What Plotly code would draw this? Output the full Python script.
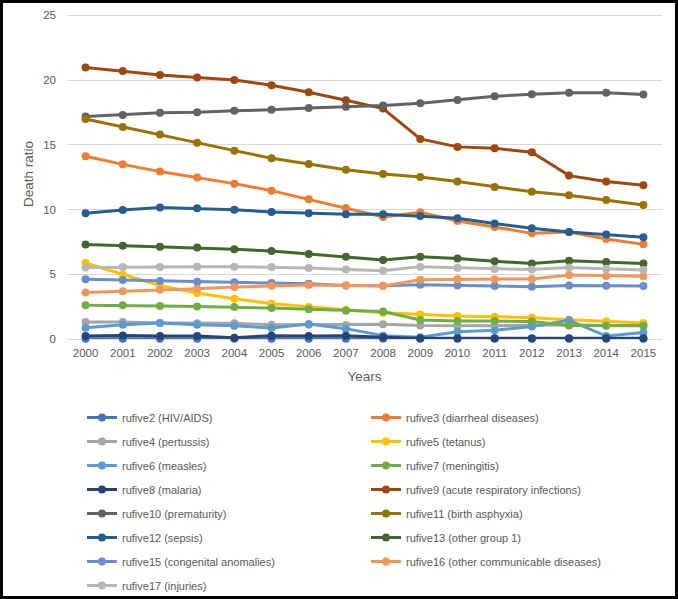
import plotly.graph_objects as go

years = [str(y) for y in range(2000, 2016)]

rufive2 = [0.02]*16
rufive3 = [14.11, 13.49, 12.93, 12.47, 12.00, 11.46, 10.80, 10.12, 9.43, 9.79, 9.12, 8.65, 8.16, 8.27, 7.73, 7.31]
rufive4 = [1.31, 1.31, 1.24, 1.21, 1.21, 1.10, 1.10, 1.08, 1.13, 1.05, 1.03, 1.03, 1.05, 1.10, 1.05, 1.05]
rufive5 = [5.87, 4.97, 4.12, 3.55, 3.11, 2.73, 2.47, 2.26, 2.03, 1.90, 1.78, 1.72, 1.65, 1.49, 1.36, 1.24]
rufive6 = [0.87, 1.10, 1.24, 1.10, 1.03, 0.85, 1.16, 0.80, 0.26, 0.13, 0.56, 0.67, 0.97, 1.44, 0.23, 0.51]
rufive7 = [2.60, 2.60, 2.55, 2.52, 2.47, 2.39, 2.29, 2.19, 2.13, 1.47, 1.39, 1.39, 1.36, 1.05, 1.03, 1.03]
rufive8 = [0.23, 0.28, 0.23, 0.23, 0.10, 0.26, 0.23, 0.26, 0.13, 0.05, 0.05, 0.05, 0.05, 0.05, 0.05, 0.05]
rufive9 = [20.97, 20.70, 20.40, 20.20, 20.00, 19.60, 19.06, 18.44, 17.80, 15.45, 14.84, 14.73, 14.42, 12.62, 12.16, 11.87]
rufive10 = [17.18, 17.31, 17.47, 17.51, 17.64, 17.70, 17.85, 17.93, 18.03, 18.21, 18.47, 18.75, 18.90, 19.03, 19.03, 18.88]
rufive11 = [17.00, 16.38, 15.79, 15.15, 14.55, 13.96, 13.52, 13.08, 12.75, 12.52, 12.16, 11.75, 11.38, 11.10, 10.74, 10.35]
rufive12 = [9.71, 9.97, 10.15, 10.09, 9.99, 9.81, 9.71, 9.63, 9.63, 9.50, 9.32, 8.93, 8.55, 8.27, 8.08, 7.85]
rufive13 = [7.29, 7.21, 7.13, 7.06, 6.93, 6.80, 6.57, 6.36, 6.10, 6.36, 6.21, 6.00, 5.84, 6.05, 5.95, 5.84]
rufive15 = [4.61, 4.56, 4.48, 4.43, 4.38, 4.33, 4.27, 4.14, 4.12, 4.20, 4.14, 4.09, 4.04, 4.14, 4.12, 4.09]
rufive16 = [3.60, 3.68, 3.81, 3.89, 4.02, 4.12, 4.17, 4.14, 4.09, 4.58, 4.61, 4.61, 4.64, 4.95, 4.87, 4.84]
rufive17 = [5.53, 5.56, 5.56, 5.59, 5.59, 5.56, 5.48, 5.36, 5.28, 5.59, 5.51, 5.41, 5.36, 5.53, 5.43, 5.33]

series = [
    ("rufive2 (HIV/AIDS)", rufive2, "#4472C4", "legend"),
    ("rufive3 (diarrheal diseases)", rufive3, "#ED7D31", "legend2"),
    ("rufive4 (pertussis)", rufive4, "#A5A5A5", "legend"),
    ("rufive5 (tetanus)", rufive5, "#FFC000", "legend2"),
    ("rufive6 (measles)", rufive6, "#5B9BD5", "legend"),
    ("rufive7 (meningitis)", rufive7, "#70AD47", "legend2"),
    ("rufive8 (malaria)", rufive8, "#264478", "legend"),
    ("rufive9 (acute respiratory infections)", rufive9, "#9E480E", "legend2"),
    ("rufive10 (prematurity)", rufive10, "#636363", "legend"),
    ("rufive11 (birth asphyxia)", rufive11, "#997300", "legend2"),
    ("rufive12 (sepsis)", rufive12, "#255E91", "legend"),
    ("rufive13 (other group 1)", rufive13, "#43682B", "legend2"),
    ("rufive15 (congenital anomalies)", rufive15, "#698ED0", "legend"),
    ("rufive16 (other communicable diseases)", rufive16, "#F1975A", "legend2"),
    ("rufive17 (injuries)", rufive17, "#B7B7B7", "legend"),
]

fig = go.Figure()
for name, vals, color, leg in series:
    fig.add_trace(go.Scatter(
        x=years, y=vals, name=name, mode="lines+markers",
        line=dict(color=color, width=3),
        marker=dict(color=color, size=8),
        cliponaxis=False, legend=leg, legendgroup=name,
    ))

W, H = 678, 599
L, R, T, B = 67, 16, 9, 260
pw, ph = W - L - R, H - T - B

def px_x(p):
    return (p - L) / pw

def px_y(p):
    return (H - B - p) / ph

tick_font = dict(family="Liberation Sans, Arial, sans-serif", size=11.5, color="#595959")
leg_font = dict(family="Liberation Sans, Arial, sans-serif", size=11, color="#595959")

fig.update_layout(
    width=W, height=H,
    margin=dict(l=L, r=R, t=T, b=B, autoexpand=False),
    paper_bgcolor="white", plot_bgcolor="white",
    showlegend=True,
    xaxis=dict(
        type="category", range=[-0.5, 15.5], showgrid=False,
        showline=False, ticks="", tickfont=tick_font, ticklabelstandoff=5,
        title=dict(text="Years", font=dict(family="Liberation Sans, Arial, sans-serif", size=13.5, color="#595959"), standoff=14),
        automargin=False,
    ),
    yaxis=dict(
        range=[0, 25.49], tickvals=[0, 5, 10, 15, 20, 25], showgrid=True, gridcolor="#D9D9D9", gridwidth=1,
        zeroline=True, zerolinecolor="#D9D9D9", zerolinewidth=1,
        showline=False, ticks="", tickfont=tick_font, ticklabelstandoff=10,
        title=dict(text="Death ratio", font=dict(family="Liberation Sans, Arial, sans-serif", size=13.5, color="#595959"), standoff=6),
        automargin=False,
    ),
    legend=dict(
        x=px_x(82), y=px_y(403), xanchor="left", yanchor="top",
        orientation="v", tracegroupgap=5, font=leg_font, bgcolor="rgba(0,0,0,0)",
        traceorder="grouped",
    ),
    legend2=dict(
        x=px_x(366), y=px_y(403), xanchor="left", yanchor="top",
        orientation="v", tracegroupgap=5, font=leg_font, bgcolor="rgba(0,0,0,0)",
        traceorder="grouped",
    ),
    shapes=[dict(
        type="rect", xref="paper", yref="paper",
        x0=px_x(1.5), x1=px_x(676.5), y0=px_y(597.5), y1=px_y(1.5),
        line=dict(color="black", width=3), fillcolor="rgba(0,0,0,0)", layer="above",
    )],
)

fig.write_html("out.html", config={"displayModeBar": False},
               post_script="document.body.style.margin='0px';document.body.style.overflow='hidden';")
